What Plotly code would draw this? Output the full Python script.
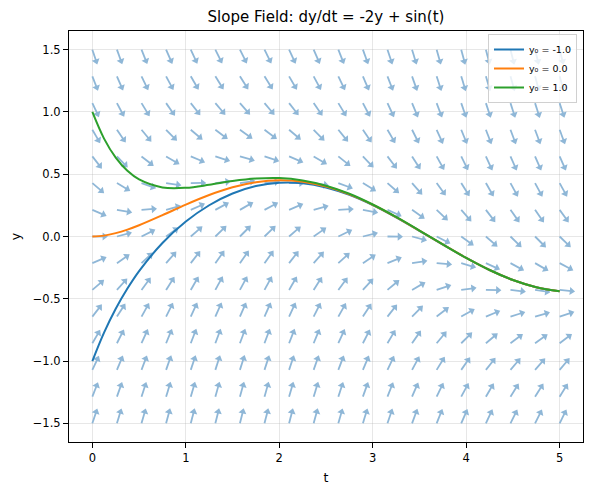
import math
import plotly.graph_objects as go

# ---------- data ----------
t_grid = [0.0, 0.263, 0.526, 0.789, 1.053, 1.316, 1.579, 1.842, 2.105, 2.368,
          2.632, 2.895, 3.158, 3.421, 3.684, 3.947, 4.211, 4.474, 4.737, 5.0]
y_grid = [-1.5, -1.286, -1.071, -0.857, -0.643, -0.429, -0.214, 0.0,
          0.214, 0.429, 0.643, 0.857, 1.071, 1.286, 1.5]
# slope contribution of each column (sin t) and of each row (-2y)
slope_col = [0.0, 0.260, 0.502, 0.710, 0.869, 0.968, 1.0, 0.964, 0.861, 0.699,
             0.488, 0.244, -0.016, -0.276, -0.516, -0.721, -0.877, -0.972, -1.0, -0.959]
slope_row = [3.0, 2.571, 2.143, 1.714, 1.286, 0.857, 0.429, 0.0,
             -0.429, -0.857, -1.286, -1.714, -2.143, -2.571, -3.0]

t_sol = [0, 0.125, 0.25, 0.375, 0.5, 0.75, 1.0, 1.25, 1.5, 1.75, 2.0, 2.25,
         2.5, 2.75, 3.0, 3.25, 3.5, 3.75, 4.0, 4.25, 4.5, 4.75, 5.0]
sol_neg1 = [-1.0, -0.772, -0.580, -0.418, -0.278, -0.052, 0.120, 0.251, 0.345, 0.405,
            0.432, 0.428, 0.394, 0.334, 0.252, 0.154, 0.046, -0.065, -0.172, -0.269,
            -0.349, -0.407, -0.440]
sol_0 = [0.0, 0.007, 0.027, 0.055, 0.090, 0.171, 0.256, 0.333, 0.395, 0.435,
         0.451, 0.439, 0.401, 0.338, 0.255, 0.156, 0.047, -0.064, -0.172, -0.269,
         -0.349, -0.407, -0.440]
sol_1 = [1.0, 0.786, 0.633, 0.527, 0.458, 0.394, 0.391, 0.415, 0.445, 0.465,
         0.469, 0.450, 0.408, 0.343, 0.257, 0.157, 0.048, -0.064, -0.172, -0.269,
         -0.349, -0.407, -0.440]
sol_names = ["y₀ = -1.0", "y₀ = 0.0", "y₀ = 1.0"]

# ---------- layout constants ----------
# the page body keeps its default 8px margin, so the figure is 8px smaller
W, H = 585, 485
M = dict(l=61, r=10, t=23, b=51)
X_RANGE = [-0.25, 5.25]
Y_RANGE = [-1.65, 1.65]
PLOT_W = W - M["l"] - M["r"]
PLOT_H = H - M["t"] - M["b"]
px_x = PLOT_W / (X_RANGE[1] - X_RANGE[0])
px_y = PLOT_H / (Y_RANGE[1] - Y_RANGE[0])

ARROW_LEN = 16       # pixels, tail to tip
HEAD_SIZE = 7
ARROW_COLOR = "#8fb7d7"
FONT = "DejaVu Sans, sans-serif"

# quiver built from the grid (screen-space direction, like matplotlib angles='uv')
shaft_x, shaft_y, head_x, head_y, head_ang = [], [], [], [], []
for i, yv in enumerate(y_grid):
    for j, tv in enumerate(t_grid):
        s = slope_col[j] + slope_row[i]
        th = math.atan(s)
        c, sn = math.cos(th), math.sin(th)
        body = ARROW_LEN - 4
        ex = tv + body * c / px_x
        ey = yv + body * sn / px_y
        shaft_x += [tv, ex, None]
        shaft_y += [yv, ey, None]
        head_x.append(ex)
        head_y.append(ey)
        head_ang.append(90 - math.degrees(th))

fig = go.Figure()
fig.add_trace(go.Scatter(x=shaft_x, y=shaft_y, mode="lines",
                         line=dict(color=ARROW_COLOR, width=1.8),
                         showlegend=False, hoverinfo="skip"))
fig.add_trace(go.Scatter(x=head_x, y=head_y, mode="markers",
                         marker=dict(symbol="triangle-up", size=HEAD_SIZE, angle=head_ang,
                                     color=ARROW_COLOR, line=dict(width=0)),
                         showlegend=False, hoverinfo="skip"))

for ys, name, col in zip([sol_neg1, sol_0, sol_1], sol_names,
                         ["#1f77b4", "#ff7f0e", "#2ca02c"]):
    fig.add_trace(go.Scatter(x=t_sol, y=ys, mode="lines", name=name,
                             line=dict(color=col, width=2, shape="spline", smoothing=1)))

axis_common = dict(
    showline=True, mirror=True, linecolor="black", linewidth=1.1,
    ticks="outside", ticklen=5, tickcolor="black", tickwidth=1,
    showgrid=True, gridcolor="rgba(176,176,176,0.3)", gridwidth=1,
    zeroline=False, automargin=False, tickfont=dict(size=11.5, color="black"),
)
fig.update_xaxes(**axis_common, range=X_RANGE, dtick=1, tick0=0,
                 title=dict(text="t", font=dict(size=12.5), standoff=9))
fig.update_yaxes(**axis_common, range=Y_RANGE, dtick=0.5, tick0=0, tickformat=".1f",
                 title=dict(text="y", font=dict(size=12.5), standoff=9))

fig.update_layout(
    width=W, height=H, margin=M,
    paper_bgcolor="white", plot_bgcolor="white",
    font=dict(family=FONT, color="black"),
    title=dict(text="Slope Field: dy/dt = -2y + sin(t)", font=dict(size=15),
               x=(M["l"] + PLOT_W / 2) / W, xanchor="center",
               y=1 - 9 / H, yanchor="middle", automargin=False),
    legend=dict(x=1 - 6 / PLOT_W, xanchor="right",
                y=1 - 3 / PLOT_H, yanchor="top",
                bgcolor="rgba(255,255,255,0.8)", bordercolor="#d0d0d0", borderwidth=1,
                font=dict(size=9.5), tracegroupgap=0, itemwidth=30),
)

fig.write_html("out.html")
